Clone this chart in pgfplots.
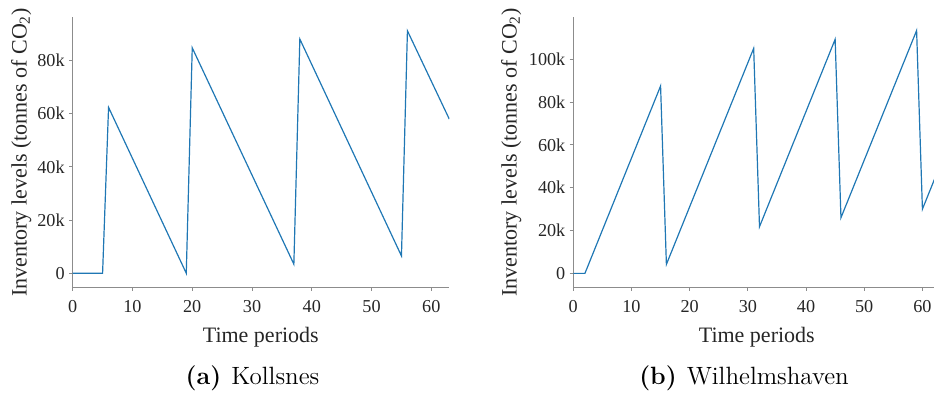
\documentclass[border=0pt]{standalone}
\usepackage{fontspec}
\usepackage{pgfplots}
\pgfplotsset{compat=1.18}
\newfontfamily\tnr{Liberation Serif}
\definecolor{mplblue}{HTML}{1F77B4}
\definecolor{spine}{HTML}{8C8C8C}
\definecolor{txt}{HTML}{262626}

\pgfplotstableread{
x y
0 0
5 0
6 62400
19 0
20 84800
37 3400
38 88100
55 6500
56 91200
63 58000
}\kollsnes

\pgfplotstableread{
x y
0 0
2 0
15 87500
16 4200
31 105100
32 21800
45 109300
46 26000
59 113400
60 30000
63 50200
}\wilhelm

\pgfplotsset{
  myax/.style={
    scale only axis,
    height=135pt,
    axis x line*=bottom, axis y line*=left,
    axis line style={spine, line width=0.5pt},
    tick style={spine, line width=0.5pt},
    major tick length=1.8pt,
    tick align=outside,
    xmin=0, xmax=63,
    xtick={0,10,20,30,40,50,60},
    xticklabels={0,10,20,30,40,50,60},
    scaled y ticks=false,
    ticklabel style={font=\tnr\fontsize{9.1}{11}\selectfont, text=txt, inner sep=0pt},
    xticklabel style={yshift=-4.4pt},
    yticklabel style={xshift=-2.0pt},
  }
}

\begin{document}
\begin{tikzpicture}
\useasboundingbox (0,0) rectangle (467pt,197pt);
\clip (0,0) rectangle (467pt,197pt);

\begin{axis}[myax, at={(36.35pt,53.35pt)}, anchor=south west, width=188.3pt,
  ymin=-5300, ymax=96300,
  ytick={0,20000,40000,60000,80000},
  yticklabels={0,20k,40k,60k,80k}]
\addplot[mplblue, line width=0.6pt] table[x=x,y=y] {\kollsnes};
\end{axis}

\begin{axis}[myax, at={(286.65pt,53.35pt)}, anchor=south west, width=183.3pt,
  ymin=-6500, ymax=119600,
  ytick={0,20000,40000,60000,80000,100000},
  yticklabels={0,20k,40k,60k,80k,100k}]
\addplot[mplblue, line width=0.6pt] table[x=x,y=y] {\wilhelm};
\end{axis}

\tikzset{lab/.style={font=\tnr\fontsize{11}{13}\selectfont, text=txt, inner sep=0pt, anchor=base}}
\node[lab] at (130.4pt,25.85pt) {Time periods};
\node[lab] at (378.4pt,25.85pt) {Time periods};
\node[lab, rotate=90] at (13.35pt,120.85pt) {Inventory levels (tonnes of CO\textsubscript{2})};
\node[lab, rotate=90] at (258.35pt,120.85pt) {Inventory levels (tonnes of CO\textsubscript{2})};

\tikzset{capt/.style={font=\fontsize{12.5}{14}\selectfont, inner sep=0pt, anchor=base}}
\node[capt] at (126.25pt,4.5pt) {\textbf{(a)}\hspace{0.4em}Kollsnes};
\node[capt] at (372pt,4.5pt) {\textbf{(b)}\hspace{0.4em}Wilhelmshaven};
\end{tikzpicture}
\end{document}
